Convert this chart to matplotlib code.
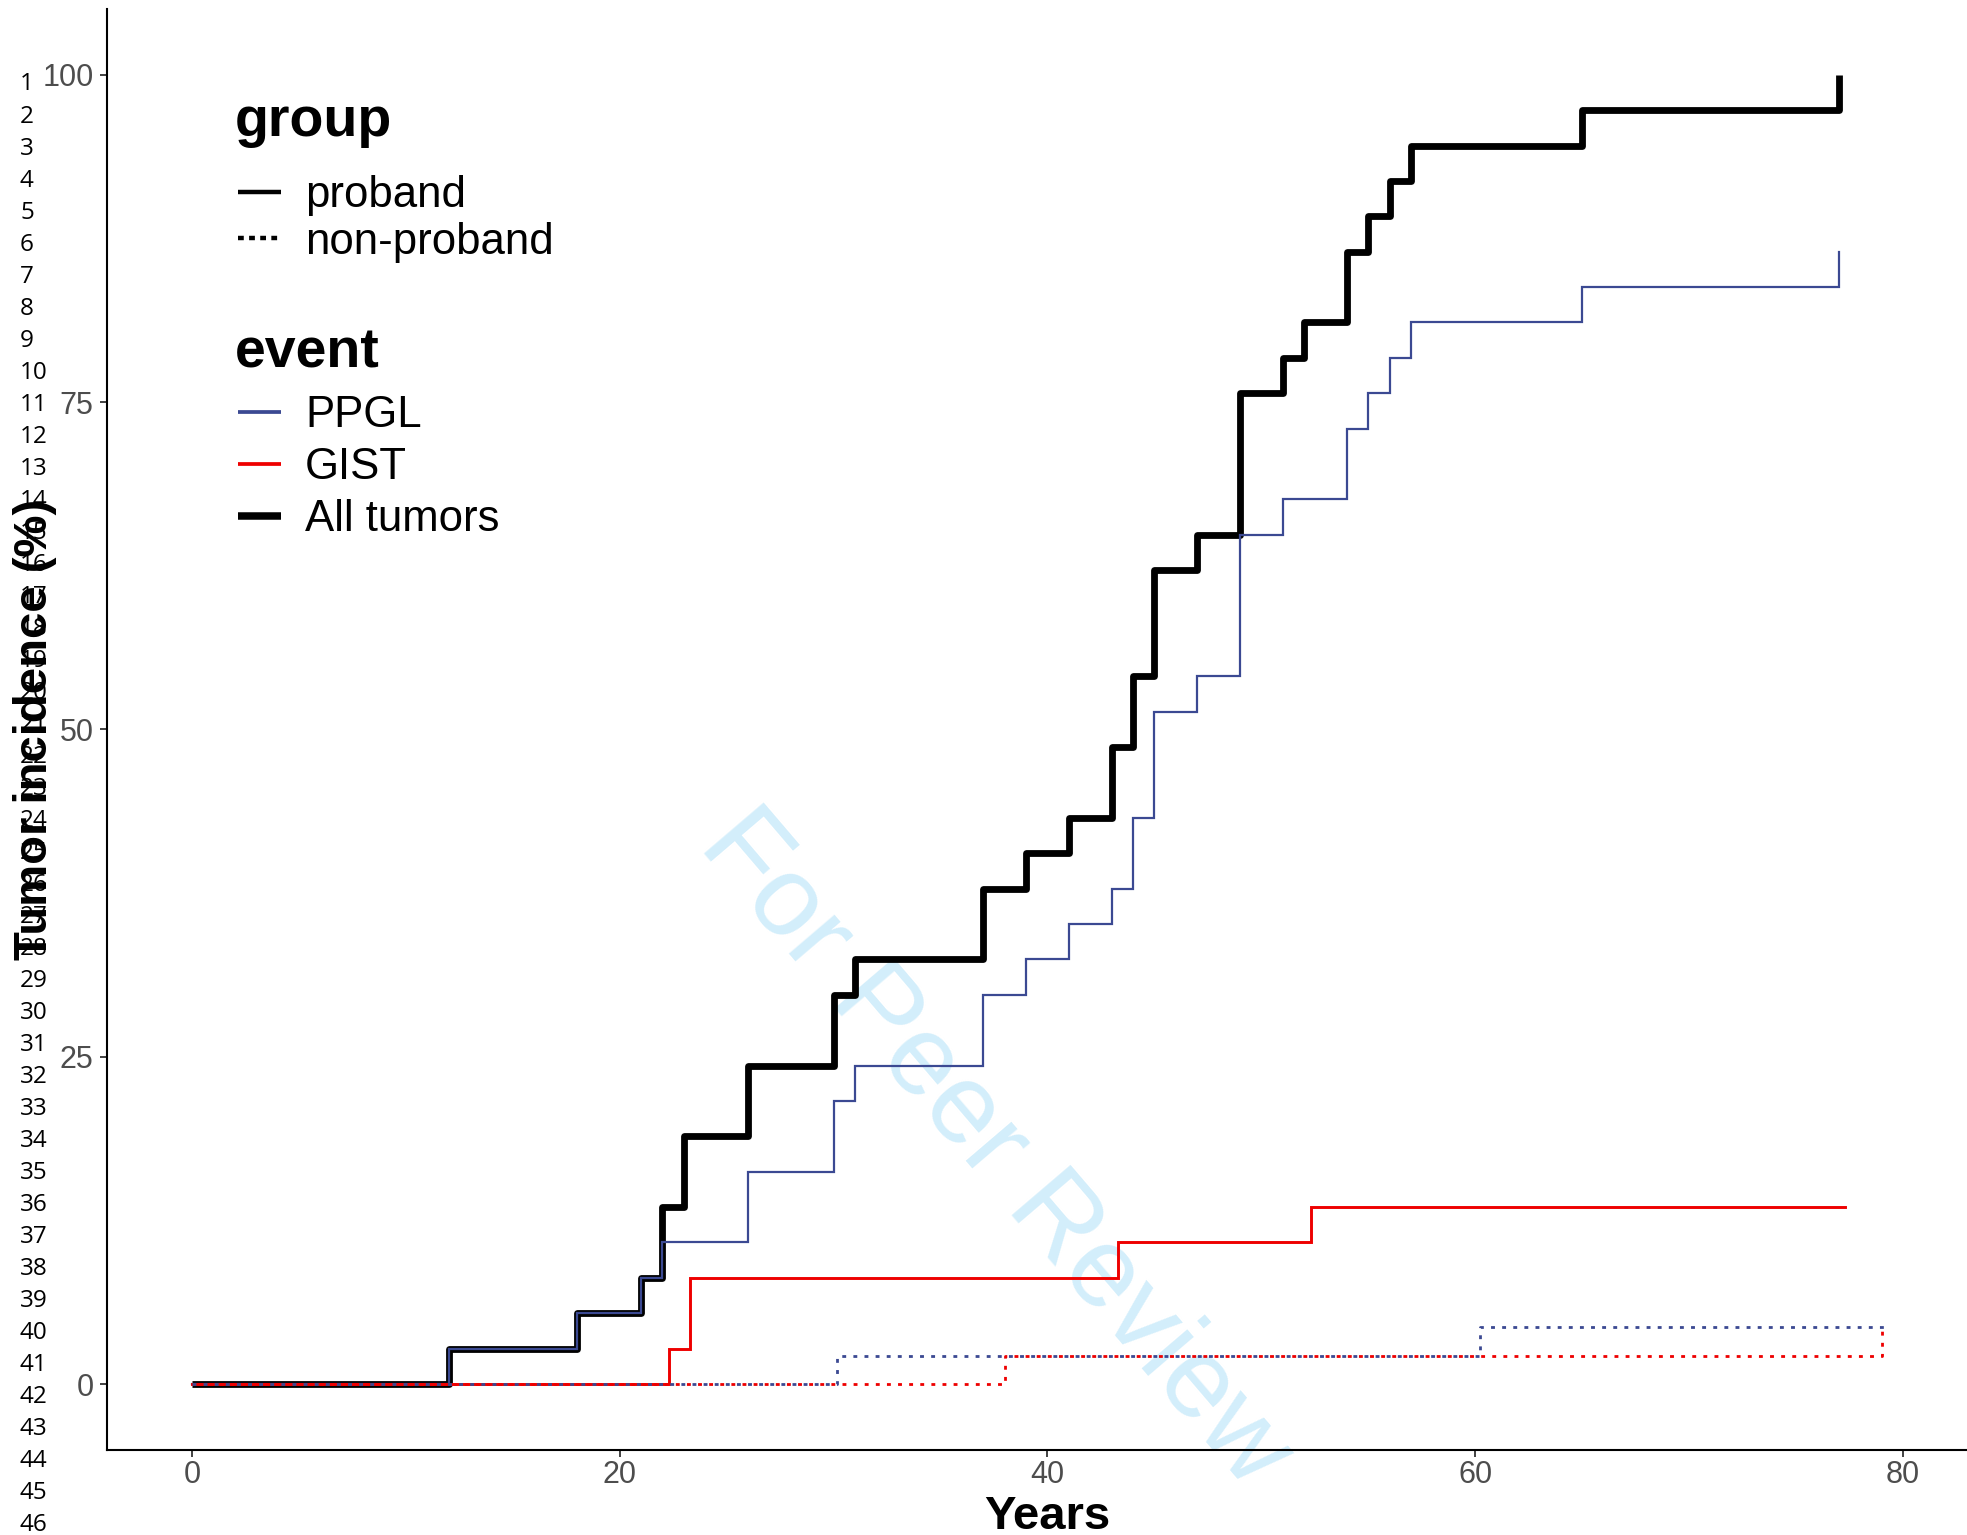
import matplotlib
matplotlib.use('Agg')
import matplotlib.pyplot as plt
from matplotlib.lines import Line2D
from matplotlib import font_manager

# ---------------- data ----------------
# proband, All tumors
all_t = [0, 12, 18, 21, 22, 23, 26, 30, 31, 37, 39, 41, 43, 44, 45, 47, 49, 51, 52, 54, 55, 56, 57, 65, 77]
all_v = [0, 2.70, 5.41, 8.11, 13.51, 18.92, 24.32, 29.73, 32.43, 37.84, 40.54, 43.24, 48.65, 54.05,
         62.16, 64.86, 75.68, 78.38, 81.08, 86.49, 89.19, 91.89, 94.59, 97.30, 100.0]
# proband, PPGL
ppgl_t = [0, 12, 18, 21, 22, 26, 30, 31, 37, 39, 41, 43, 44, 45, 47, 49, 51, 54, 55, 56, 57, 65, 77]
ppgl_v = [0, 2.70, 5.41, 8.11, 10.81, 16.22, 21.62, 24.32, 29.73, 32.43, 35.14, 37.84, 43.24, 51.35,
          54.05, 64.86, 67.57, 72.97, 75.68, 78.38, 81.08, 83.78, 86.49]
# proband, GIST
gist_t = [0, 22.3, 23.3, 43.3, 52.3, 77.3]
gist_v = [0, 2.70, 8.11, 10.81, 13.51, 13.51]
# non-proband, PPGL
np_ppgl_t = [0, 30.15, 60.2, 79.1]
np_ppgl_v = [0, 2.15, 4.35, 4.35]
# non-proband, GIST
np_gist_t = [0, 38.0, 79.0]
np_gist_v = [0, 2.15, 4.35]

x_ticks = [0, 20, 40, 60, 80]
y_ticks = [0, 25, 50, 75, 100]
group_labels = ['proband', 'non-proband']
event_labels = ['PPGL', 'GIST', 'All tumors']
line_numbers = [str(i) for i in range(1, 47)]

BLUE = '#3B4992'
RED = '#EE0000'
BLACK = '#000000'

names = {f.name for f in font_manager.fontManager.ttflist}
FONT = 'Liberation Sans' if 'Liberation Sans' in names else 'DejaVu Sans'
NUMFONT = 'Open Sans' if 'Open Sans' in names else FONT

W, H = 1967, 1535
fig = plt.figure(figsize=(W / 100, H / 100), dpi=100)
fig.patch.set_facecolor('white')

ax_left, ax_right = 107.3, 1968.3
ax_top, ax_bot = 9.2, 1449.5
ax = fig.add_axes([ax_left / W, (H - ax_bot) / H, (ax_right - ax_left) / W, (ax_bot - ax_top) / H])
ax.patch.set_alpha(0)

# curves
ax.step(all_t, all_v, where='post', color=BLACK, lw=4.9, solid_joinstyle='round', solid_capstyle='butt', zorder=3)
ax.step(ppgl_t, ppgl_v, where='post', color=BLUE, lw=1.6, solid_joinstyle='miter', zorder=4)
ax.step(gist_t, gist_v, where='post', color=RED, lw=2.1, solid_joinstyle='miter', zorder=5)
ax.step(np_ppgl_t, np_ppgl_v, where='post', color=BLUE, lw=2.0, linestyle=(0, (1.4, 2.6)), zorder=6)
ax.step(np_gist_t, np_gist_v, where='post', color=RED, lw=2.0, linestyle=(2.0, (1.4, 2.6)), zorder=6)

ax.set_xlim(-3.955, 83.05)
ax.set_ylim(-5, 105)
ax.set_xticks(x_ticks)
ax.set_yticks(y_ticks)
ax.set_xticklabels([str(v) for v in x_ticks])
ax.set_yticklabels([str(v) for v in y_ticks])
for s in ['top', 'right']:
    ax.spines[s].set_visible(False)
for s in ['left', 'bottom']:
    ax.spines[s].set_linewidth(1.5)
    ax.spines[s].set_color('black')
ax.tick_params(axis='both', length=5, width=1.3, color='#333333', labelcolor='#4D4D4D', labelsize=22)
ax.tick_params(axis='x', pad=2.5)
ax.tick_params(axis='y', pad=5)
for lab in ax.get_xticklabels() + ax.get_yticklabels():
    lab.set_fontfamily(FONT)

# watermark
ax.text(994 / W, 1 - 1150 / H, 'For Peer Review', transform=fig.transFigure, rotation=-49.5,
        rotation_mode='anchor', ha='center', va='center', fontsize=82, color='#D3EEFB',
        family=FONT, zorder=1, clip_on=False)

# axis titles
fig.text(1047 / W, 1 - 1529 / H, 'Years', ha='center', va='baseline', fontsize=34,
         fontweight='bold', family=FONT)

# line numbers of the manuscript page
for i, num in enumerate(line_numbers):
    y = 84.5 + 32.02 * i
    fig.text(20 / W, 1 - y / H, num, ha='left', va='center', fontsize=17.5, family=NUMFONT, color='black')

fig.text(47 / W, 1 - 729.4 / H, 'Tumor incidence (%)', rotation=90, rotation_mode='anchor',
         ha='center', va='baseline', fontsize=34, fontweight='bold', family=FONT)

# legends
fig.text(235 / W, 1 - 136 / H, 'group', ha='left', va='baseline', fontsize=40, fontweight='bold', family=FONT)
fig.text(235 / W, 1 - 367 / H, 'event', ha='left', va='baseline', fontsize=40, fontweight='bold', family=FONT)

h_group = [Line2D([], [], color=BLACK, lw=3.2, solid_capstyle='butt'),
           Line2D([], [], color=BLACK, lw=3.2, linestyle=(0, (1.3, 1.2)), dash_capstyle='butt')]
h_event = [Line2D([], [], color=BLUE, lw=2.7, solid_capstyle='butt'),
           Line2D([], [], color=RED, lw=2.7, solid_capstyle='butt'),
           Line2D([], [], color=BLACK, lw=5.4, solid_capstyle='butt')]

common = dict(loc='upper left', bbox_transform=fig.transFigure, frameon=False, borderpad=0,
              borderaxespad=0, handlelength=0.98, handletextpad=0.55,
              prop={'family': FONT, 'size': 31.5})
leg1 = fig.legend(h_group, group_labels, bbox_to_anchor=(238 / W, 1 - 175 / H), labelspacing=0.13, **common)
leg2 = fig.legend(h_event, event_labels, bbox_to_anchor=(238 / W, 1 - 395 / H), labelspacing=0.25, **common)

fig.savefig('out.png', dpi=100, facecolor='white')
